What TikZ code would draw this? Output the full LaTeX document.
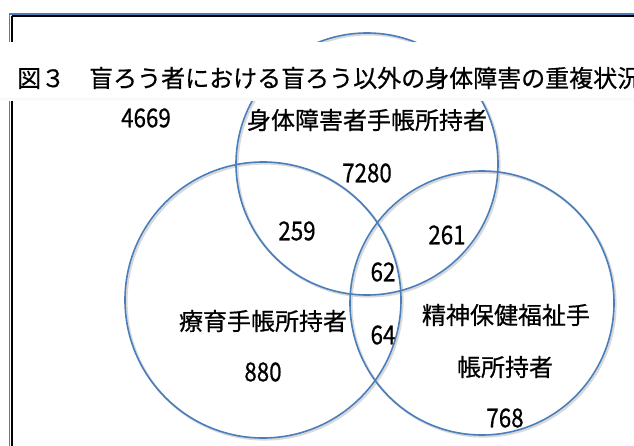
\documentclass[tikz,border=0pt]{standalone}
\usepackage{fontspec}
\setmainfont{Noto Sans CJK JP}
\newfontfamily\jpfont[FakeBold=0.6]{Noto Sans CJK JP}
\definecolor{vblue}{HTML}{4A7EBB}
\definecolor{shade}{HTML}{D9D9D9}
\tikzset{
  venn/.style={draw=vblue, line width=1.6pt},
  vshadow/.style={draw=shade, line width=2.2pt},
  lbl/.style={inner sep=0pt, font=\fontsize{24}{28}\selectfont\jpfont},
  num/.style={inner sep=0pt, font=\fontsize{26}{28}\selectfont\jpfont},
}
\newcommand{\nm}[1]{\scalebox{0.86}[1]{#1}}
\begin{document}
\begin{tikzpicture}[x=1pt,y=-1pt]
\useasboundingbox (0,0) rectangle (634,446);
\clip (0,0) rectangle (634,446);
\fill[white] (0,0) rectangle (634,446);
% frame
\draw[shade, line width=2pt] (11.5,16) -- (11.5,470);
\draw[shade, line width=2pt] (11.5,16) -- (700,16);
\draw[vblue, line width=1.6pt] (9.5,460) -- (9.5,14) -- (700,14);
% circle shadows
\draw[vshadow] (368.5,165.5) circle[radius=131];
\draw[vshadow] (264.5,301.5) circle[radius=138];
\draw[vshadow] (483.5,304.5) circle[radius=132];
% circles
\node[circle, venn, minimum size=262pt, inner sep=0pt] (phys) at (367,164) {};
\node[circle, venn, minimum size=276pt, inner sep=0pt] (ryoiku) at (263,300) {};
\node[circle, venn, minimum size=264pt, inner sep=0pt] (seishin) at (482,303) {};
% title band
\fill[shade] (0,44) rectangle (634,101);
\fill[white] (0,42) rectangle (634,98);
\node[lbl, anchor=west] (title) at (17,78) {図３　盲ろう者における盲ろう以外の身体障害の重複状況};
% labels
\node[num] (n4669) at (146,118) {\nm{4669}};
\node[lbl] (lphys) at (367,120) {身体障害者手帳所持者};
\node[num] (n7280) at (367,173) {\nm{7280}};
\node[num] (n259) at (297,231) {\nm{259}};
\node[num] (n261) at (447,235) {\nm{261}};
\node[num] (n62) at (383,272) {\nm{62}};
\node[lbl] (lryoiku) at (263,321) {療育手帳所持者};
\node[num] (n880) at (263,372) {\nm{880}};
\node[num] (n64) at (383,335) {\nm{64}};
\node[lbl] (lseishin1) at (506,315) {精神保健福祉手};
\node[lbl] (lseishin2) at (505,367) {帳所持者};
\node[num] (n768) at (505,418) {\nm{768}};
\end{tikzpicture}
\end{document}
